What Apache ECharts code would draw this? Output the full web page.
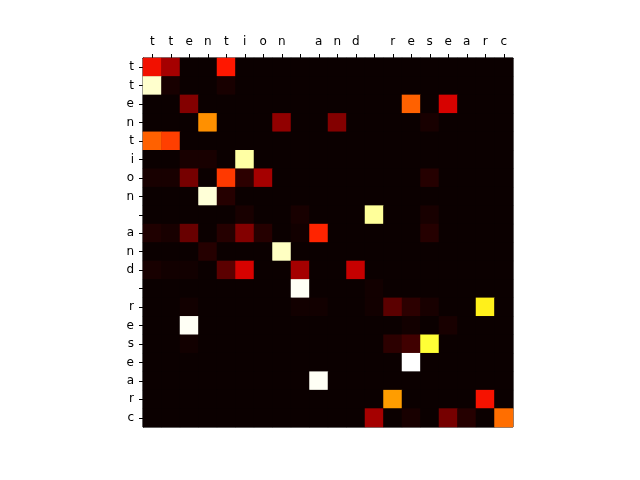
<!DOCTYPE html>
<html>
<head>
<meta charset="utf-8">
<script src="https://cdn.jsdelivr.net/npm/echarts@6/dist/echarts.min.js"></script>
<style>
  html, body { margin: 0; padding: 0; background: #fff; }
  #chart { width: 640px; height: 480px; }
</style>
</head>
<body>
<div id="chart"></div>
<script>
// characters along both axes
const xLabels = ['t', 't', 'e', 'n', 't', 'i', 'o', 'n', ' ', 'a', 'n', 'd', ' ', 'r', 'e', 's', 'e', 'a', 'r', 'c']
const yLabels = ['t', 't', 'e', 'n', 't', 'i', 'o', 'n', ' ', 'a', 'n', 'd', ' ', 'r', 'e', 's', 'e', 'a', 'r', 'c']

// attention weights, one row per y label
const row0  = [0.37, 0.23, 0, 0, 0.40, 0, 0, 0, 0, 0, 0, 0, 0, 0, 0, 0, 0, 0, 0, 0]
const row1  = [0.95, 0.02, 0, 0, 0.02, 0, 0, 0, 0, 0, 0, 0, 0, 0, 0, 0, 0, 0, 0, 0]
const row2  = [0, 0, 0.18, 0, 0, 0, 0, 0, 0, 0, 0, 0, 0, 0, 0.51, 0, 0.31, 0, 0, 0]
const row3  = [0, 0, 0, 0.58, 0, 0, 0, 0.20, 0, 0, 0.18, 0, 0, 0, 0, 0.02, 0, 0, 0, 0]
const row4  = [0.51, 0.46, 0, 0, 0, 0, 0, 0, 0, 0, 0, 0, 0, 0, 0, 0, 0, 0, 0, 0]
const row5  = [0, 0, 0.02, 0.02, 0, 0.91, 0, 0, 0, 0, 0, 0, 0, 0, 0, 0, 0, 0, 0, 0]
const row6  = [0.02, 0.02, 0.16, 0, 0.45, 0.05, 0.23, 0, 0, 0, 0, 0, 0, 0, 0, 0.04, 0, 0, 0, 0]
const row7  = [0, 0, 0, 0.96, 0.04, 0, 0, 0, 0, 0, 0, 0, 0, 0, 0, 0, 0, 0, 0, 0]
const row8  = [0, 0, 0, 0, 0, 0.02, 0, 0, 0.02, 0, 0, 0, 0.90, 0, 0, 0.02, 0, 0, 0, 0]
const row9  = [0.03, 0.02, 0.14, 0, 0.04, 0.18, 0.04, 0, 0.01, 0.42, 0, 0, 0, 0, 0, 0.04, 0, 0, 0, 0]
const row10 = [0, 0, 0, 0.04, 0, 0, 0, 0.94, 0, 0, 0, 0, 0, 0, 0, 0, 0, 0, 0, 0]
const row11 = [0.02, 0.01, 0.01, 0, 0.12, 0.31, 0, 0, 0.23, 0, 0, 0.28, 0, 0, 0, 0, 0, 0, 0, 0]
const row12 = [0, 0, 0, 0, 0, 0, 0, 0, 0.99, 0, 0, 0, 0.01, 0, 0, 0, 0, 0, 0, 0]
const row13 = [0, 0, 0.01, 0, 0, 0, 0, 0, 0.01, 0.01, 0, 0, 0.01, 0.12, 0.05, 0.02, 0, 0, 0.75, 0]
const row14 = [0, 0, 0.99, 0, 0, 0, 0, 0, 0, 0, 0, 0, 0, 0, 0.01, 0, 0.02, 0, 0, 0]
const row15 = [0, 0, 0.01, 0, 0, 0, 0, 0, 0, 0, 0, 0, 0, 0.05, 0.08, 0.80, 0, 0, 0, 0]
const row16 = [0, 0, 0, 0, 0, 0, 0, 0, 0, 0, 0, 0, 0, 0, 1.00, 0, 0, 0, 0, 0]
const row17 = [0, 0, 0, 0, 0, 0, 0, 0, 0, 0.99, 0, 0, 0, 0, 0, 0, 0, 0, 0, 0]
const row18 = [0, 0, 0, 0, 0, 0, 0, 0, 0, 0, 0, 0, 0, 0.60, 0, 0, 0, 0, 0.38, 0]
const row19 = [0, 0, 0, 0, 0, 0, 0, 0, 0, 0, 0, 0, 0.23, 0, 0.02, 0, 0.16, 0.04, 0, 0.53]

const weights = [row0, row1, row2, row3, row4, row5, row6, row7, row8, row9,
  row10, row11, row12, row13, row14, row15, row16, row17, row18, row19]

// matplotlib "hot" sampled at 0, 0.1, ... 1
const hotColors = ['#0b0000', '#4d0000', '#910000', '#d30000', '#ff1700', '#ff5a00',
  '#ff9d00', '#ffe000', '#ffff36', '#ffff9a', '#ffffff']

const cells = []
weights.forEach((row, y) => {
  row.forEach((v, x) => cells.push([x, y, v]))
})

const chart = echarts.init(document.getElementById('chart'))

const axisFont = {
  color: '#000',
  fontSize: 12,
  fontFamily: 'DejaVu Sans'
}

chart.setOption({
  animation: false,
  grid: {
    left: 143,
    top: 58,
    width: 370,
    height: 369,
    show: true,
    // dark backdrop so the seams between cells do not show white
    backgroundColor: '#0b0000',
    borderColor: '#000',
    borderWidth: 1
  },
  xAxis: {
    type: 'category',
    position: 'top',
    data: xLabels,
    axisLine: { show: true, lineStyle: { color: '#000', width: 1 } },
    axisTick: { show: true, alignWithLabel: true, length: 4, lineStyle: { color: '#000' } },
    axisLabel: { ...axisFont, margin: 10, interval: 0 },
    splitLine: { show: false }
  },
  yAxis: {
    type: 'category',
    inverse: true,
    data: yLabels,
    axisLine: { show: true, lineStyle: { color: '#000', width: 1 } },
    axisTick: { show: true, alignWithLabel: true, length: 4, lineStyle: { color: '#000' } },
    axisLabel: { ...axisFont, margin: 9, interval: 0 },
    splitLine: { show: false }
  },
  visualMap: {
    show: false,
    min: 0,
    max: 1,
    dimension: 2,
    inRange: { color: hotColors }
  },
  series: [{
    type: 'heatmap',
    data: cells,
    itemStyle: { borderWidth: 0 },
    emphasis: { disabled: true }
  }]
})
</script>
</body>
</html>
